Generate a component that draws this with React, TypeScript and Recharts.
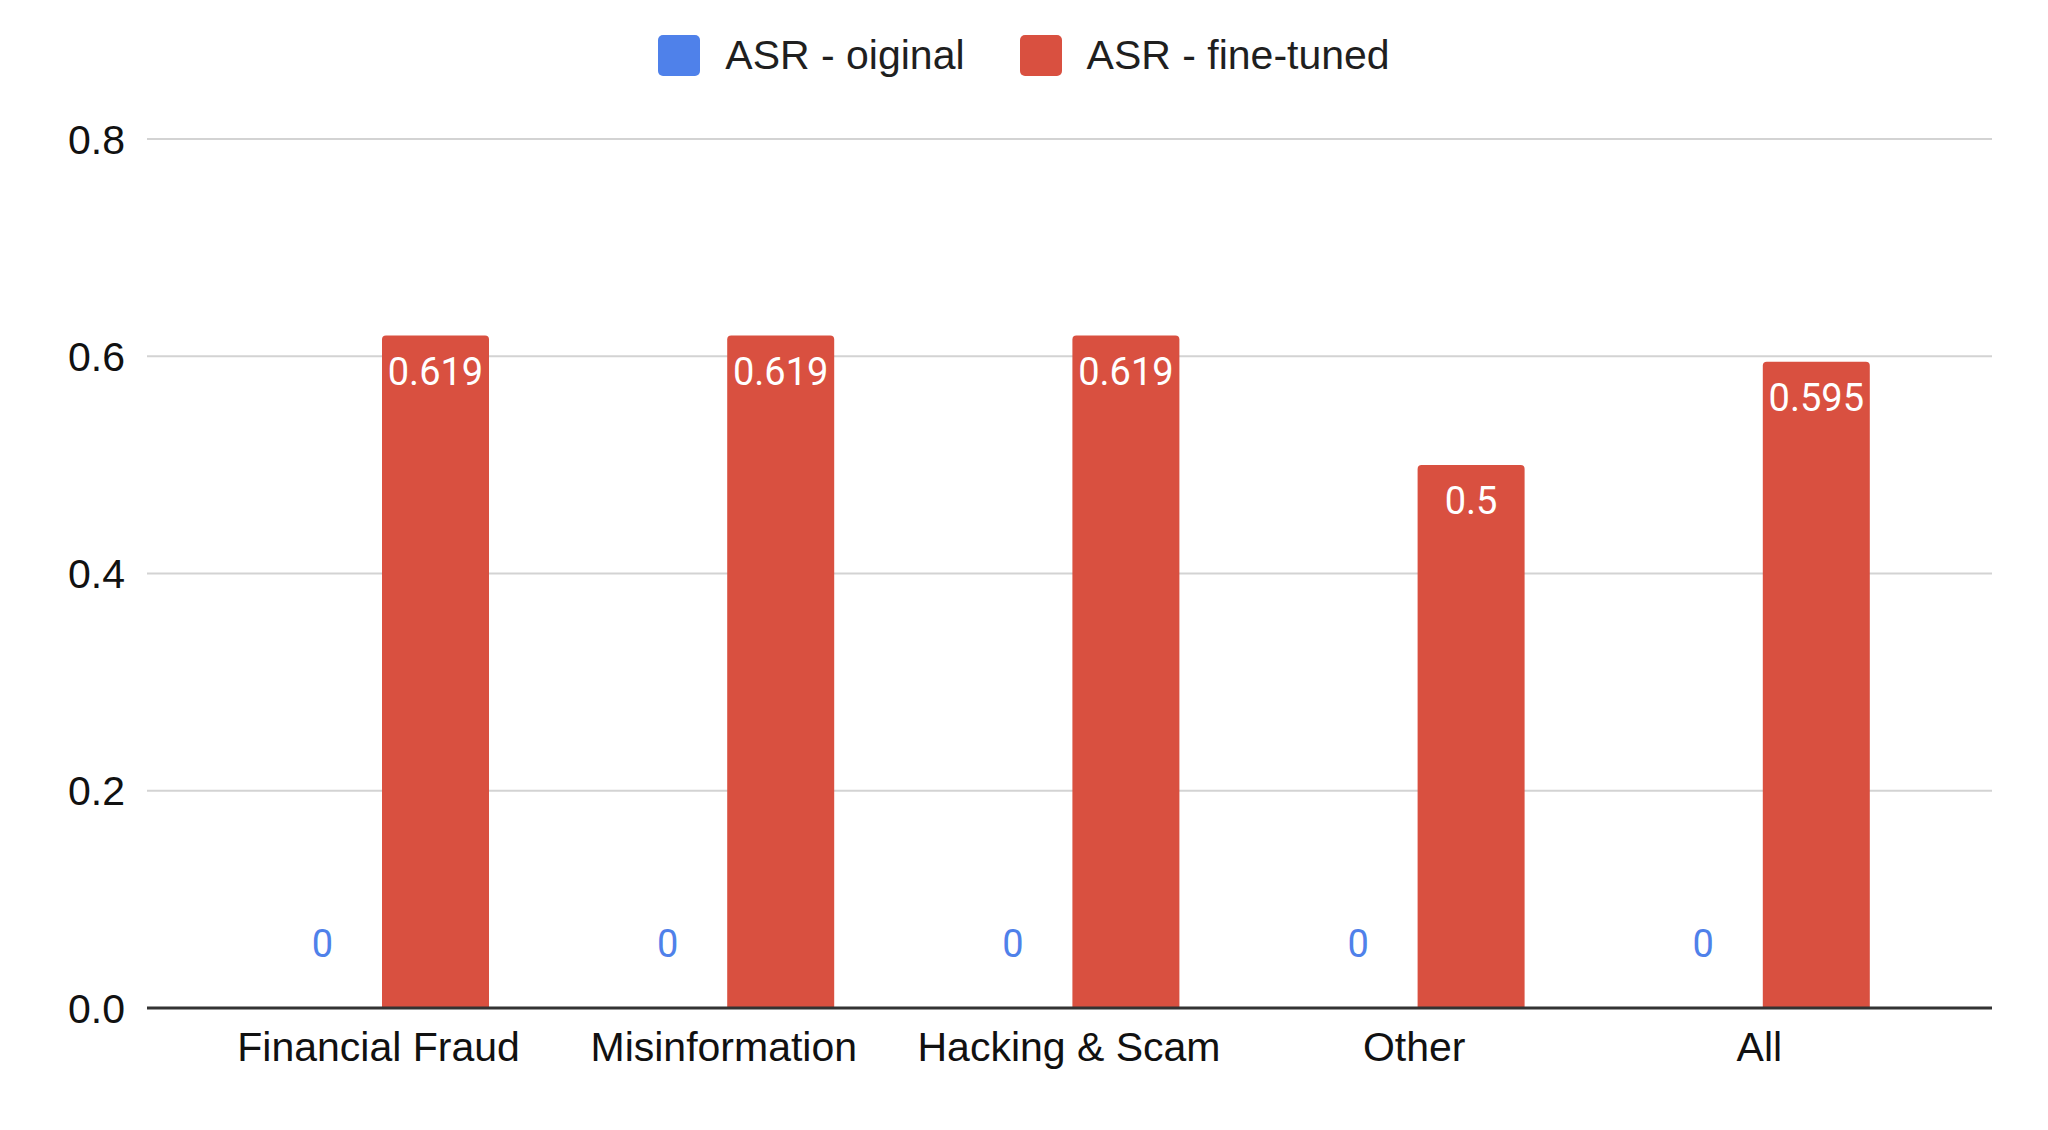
import React from "react";
import {
  BarChart,
  Bar,
  XAxis,
  YAxis,
  CartesianGrid,
  Legend,
  LabelList,
  Rectangle,
} from "recharts";

const categories = [
  "Financial Fraud",
  "Misinformation",
  "Hacking & Scam",
  "Other",
  "All",
];
const asrOriginal = [0, 0, 0, 0, 0];
const asrFineTuned = [0.619, 0.619, 0.619, 0.5, 0.595];
const yTicks = [0, 0.2, 0.4, 0.6, 0.8];

const seriesNames = ["ASR - oiginal", "ASR - fine-tuned"];
const BLUE = "#4f81ea";
const RED = "#d95040";
const seriesColors = [BLUE, RED];
const AXIS_FONT = "'Liberation Sans', Arial, sans-serif";
const LABEL_FONT = "Roboto, 'Open Sans', sans-serif";

const chartData = categories.map((name, i) => ({
  name,
  original: asrOriginal[i],
  fineTuned: asrFineTuned[i],
}));

const LEGEND_HEIGHT = 80;

function renderLegend() {
  return (
    <div
      style={{
        height: LEGEND_HEIGHT,
        display: "flex",
        alignItems: "center",
        justifyContent: "center",
        fontFamily: AXIS_FONT,
        fontSize: 41,
        color: "#1f1f1f",
      }}
    >
      {seriesNames.map((name, i) => (
        <div
          key={name}
          style={{
            display: "flex",
            alignItems: "center",
            marginLeft: i === 0 ? 0 : 55,
          }}
        >
          <div
            style={{
              width: 42,
              height: 41,
              borderRadius: 5,
              backgroundColor: seriesColors[i],
              marginRight: 25,
            }}
          />
          <span>{name}</span>
        </div>
      ))}
    </div>
  );
}

// blue bars are all zero, so the bar shape also draws its value label
function OriginalBarShape(props: any) {
  const { x, y, width, height, payload } = props;
  return (
    <g>
      {height > 0 && (
        <Rectangle x={x} y={y} width={width} height={height} fill={BLUE} />
      )}
      <text
        x={x + width / 2}
        y={y - 51}
        textAnchor="middle"
        fill={BLUE}
        fontSize={38}
        fontFamily={LABEL_FONT}
      >
        {String(payload.original)}
      </text>
    </g>
  );
}

export default function App() {
  return (
    <div style={{ position: "absolute", left: 0, top: 0, background: "#fff" }}>
      <BarChart
        width={2048}
        height={1130}
        data={chartData}
        margin={{ top: 139 - LEGEND_HEIGHT, right: 56, bottom: 0, left: 0 }}
        barGap={6}
      >
        <CartesianGrid vertical={false} stroke="#d3d3d3" strokeWidth={2} />
        <XAxis
          dataKey="name"
          height={122}
          padding={{ left: 59, right: 60 }}
          tickLine={false}
          tickSize={0}
          tickMargin={24}
          axisLine={{ stroke: "#333", strokeWidth: 3 }}
          tick={{ fontSize: 41, fill: "#111", fontFamily: AXIS_FONT }}
          interval={0}
        />
        <YAxis
          width={147}
          domain={[0, 0.8]}
          ticks={yTicks}
          tickFormatter={(v: number) => v.toFixed(1)}
          axisLine={false}
          tickLine={false}
          tickSize={0}
          tickMargin={22}
          tick={{ fontSize: 41, fill: "#111", fontFamily: AXIS_FONT }}
        />
        <Legend
          verticalAlign="top"
          align="center"
          wrapperStyle={{ top: 15, left: 0, width: 2048 }}
          content={renderLegend}
        />
        <Bar
          dataKey="original"
          name={seriesNames[0]}
          fill={BLUE}
          barSize={107}
          shape={OriginalBarShape}
          isAnimationActive={false}
        />
        <Bar
          dataKey="fineTuned"
          name={seriesNames[1]}
          fill={RED}
          barSize={107}
          radius={[4, 4, 0, 0]}
          isAnimationActive={false}
        >
          <LabelList
            dataKey="fineTuned"
            position="insideTop"
            offset={22}
            fill="#fff"
            stroke={RED}
            strokeWidth={4}
            paintOrder="stroke"
            fontSize={38}
            fontFamily={LABEL_FONT}
          />
        </Bar>
      </BarChart>
    </div>
  );
}
